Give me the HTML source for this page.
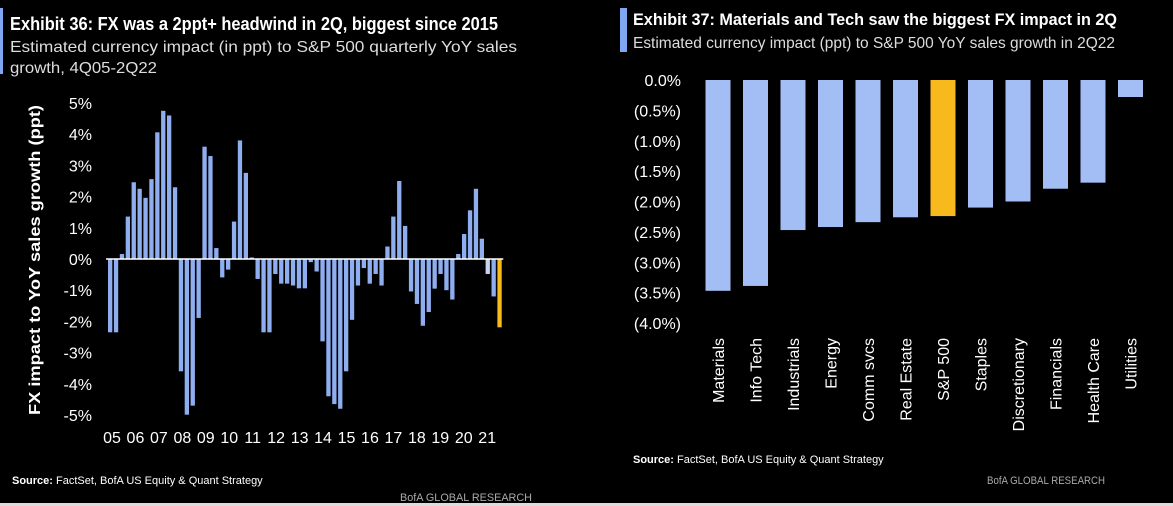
<!DOCTYPE html>
<html><head><meta charset="utf-8"><style>
html,body{margin:0;padding:0;background:#000;}
svg{display:block;font-family:"Liberation Sans",sans-serif;}
</style></head><body>
<svg width="1173" height="506" viewBox="0 0 1173 506">
<rect x="0" y="0" width="1173" height="506" fill="#000"/>
<rect x="0" y="503" width="1173" height="3" fill="#ddd"/>
<rect x="0" y="8" width="3" height="66" fill="#7fa6f0"/>
<text x="10" y="30" fill="#fff" font-weight="bold" font-size="18" textLength="488" lengthAdjust="spacingAndGlyphs">Exhibit 36: FX was a 2ppt+ headwind in 2Q, biggest since 2015</text>
<text x="10" y="52" fill="#ddd" font-size="16" textLength="507" lengthAdjust="spacingAndGlyphs">Estimated currency impact (in ppt) to S&amp;P 500 quarterly YoY sales</text>
<text x="10" y="73" fill="#ddd" font-size="16" textLength="147" lengthAdjust="spacingAndGlyphs">growth, 4Q05-2Q22</text>
<text transform="translate(40,260) rotate(-90)" text-anchor="middle" fill="#fff" font-weight="bold" font-size="16" textLength="310" lengthAdjust="spacingAndGlyphs">FX impact to YoY sales growth (ppt)</text>
<g id="left"></g>
<text x="12" y="484" fill="#fff" font-size="11"><tspan font-weight="bold">Source:</tspan> FactSet, BofA US Equity &amp; Quant Strategy</text>
<text x="400" y="501" fill="#aaa" font-size="11" textLength="132" lengthAdjust="spacingAndGlyphs">BofA GLOBAL RESEARCH</text>

<rect x="620" y="8" width="7" height="44" fill="#7fa6f0"/>
<text x="633" y="25" fill="#fff" font-weight="bold" font-size="17" textLength="484" lengthAdjust="spacingAndGlyphs">Exhibit 37: Materials and Tech saw the biggest FX impact in 2Q</text>
<text x="633" y="48" fill="#ddd" font-size="16" textLength="482" lengthAdjust="spacingAndGlyphs">Estimated currency impact (ppt) to S&amp;P 500 YoY sales growth in 2Q22</text>
<g id="right"></g>
<text x="633" y="463" fill="#fff" font-size="11"><tspan font-weight="bold">Source:</tspan> FactSet, BofA US Equity &amp; Quant Strategy</text>
<text x="987" y="484" fill="#aaa" font-size="11" textLength="118" lengthAdjust="spacingAndGlyphs">BofA GLOBAL RESEARCH</text>
</svg>
<script>
const leftValues=[-2.35,-2.35,0.16,1.36,2.46,2.25,1.96,2.56,4.06,4.75,4.6,2.3,-3.6,-4.99,-4.7,-1.89,3.6,3.3,0.35,-0.59,-0.34,1.2,3.8,2.76,0.05,-0.64,-2.35,-2.35,-0.48,-0.79,-0.79,-0.85,-0.94,-0.94,-0.1,-0.4,-2.64,-4.4,-4.65,-4.8,-3.6,-1.95,-0.85,-0.29,-0.79,-0.48,-0.85,0.4,1.36,2.5,1.06,-1.04,-1.44,-2.14,-1.7,-0.95,-0.48,-1.0,-1.3,0.16,0.8,1.56,2.25,0.65,-0.48,-1.2,-2.19];
const leftYTicks=[5,4,3,2,1,0,-1,-2,-3,-4,-5];
const leftYears=["05","06","07","08","09","10","11","12","13","14","15","16","17","18","19","20","21"];
const rightCats=["Materials","Info Tech","Industrials","Energy","Comm svcs","Real Estate","S&P 500","Staples","Discretionary","Financials","Health Care","Utilities"];
const rightValues=[-3.47,-3.39,-2.47,-2.42,-2.34,-2.26,-2.24,-2.1,-2.0,-1.79,-1.69,-0.28];
const rightYTicks=[0,-0.5,-1,-1.5,-2,-2.5,-3,-3.5,-4];
const NS="http://www.w3.org/2000/svg";
function mk(t,a,p){const e=document.createElementNS(NS,t);for(const k in a)e.setAttribute(k,a[k]);p.appendChild(e);return e;}
// left chart
const L=document.getElementById('left');
const ly=v=>259-v*31.2;
const lStep=5.9, lx0=108;
const lx=i=>lx0+i*lStep;
leftYTicks.forEach(t=>{const e=mk('text',{x:92,y:ly(t)+6,'text-anchor':'end',fill:'#fff','font-size':16},L);e.textContent=t+'%';

});
leftValues.forEach((v,i)=>{const last=i===leftValues.length-1;const r=mk('rect',{x:lx(i),y:Math.min(ly(v),ly(0)),width:4.3,height:Math.abs(ly(v)-ly(0)),fill:last?'#f8b91c':(i===leftValues.length-3?'#c7d4ee':'#8eaef0')},L);

});
const z=mk('line',{x1:lx0-2,x2:lx(leftValues.length),y1:ly(0),y2:ly(0),stroke:'#fff','stroke-width':1.5},L);


leftYears.forEach((y,i)=>{const e=mk('text',{x:112+i*23.45,y:443,'text-anchor':'middle',fill:'#fff','font-size':16},L);e.textContent=y;

});
// right chart
const R=document.getElementById('right');
const ry=v=>80-v*60.75;
const rx=i=>718+i*37.5;
rightYTicks.forEach(t=>{const s=t===0?'0.0%':'('+Math.abs(t).toFixed(1)+'%)';const e=mk('text',{x:681,y:ry(t)+6,'text-anchor':'end',fill:'#fff','font-size':16},R);e.textContent=s;

});
rightValues.forEach((v,i)=>{const r=mk('rect',{x:rx(i)-12.5,y:ry(0),width:25,height:ry(v)-ry(0),fill:rightCats[i]==='S&P 500'?'#f8b91c':'#a3bdf5'},R);


const t=mk('text',{transform:`translate(${rx(i)+6},338) rotate(-90)`,'text-anchor':'end',fill:'#fff','font-size':16},R);t.textContent=rightCats[i];

});
</script>
</body></html>
